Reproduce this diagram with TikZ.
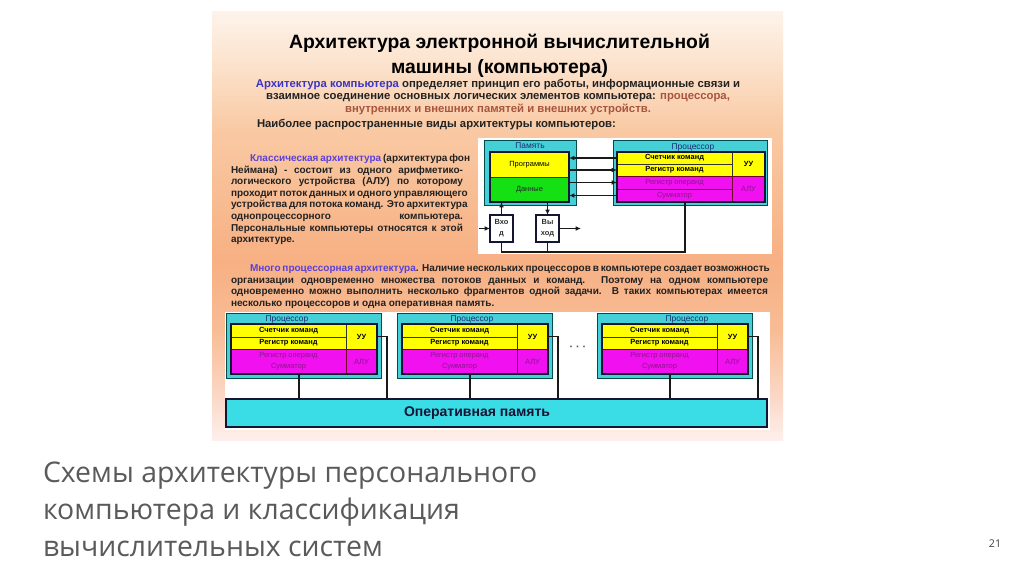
\documentclass[tikz,border=0pt]{standalone}
\usepackage{fontspec}
\setmainfont{Liberation Sans}
\newfontfamily\capfont{Open Sans}
\usetikzlibrary{arrows.meta}
\newdimen\pxu \pxu=0.75pt
\definecolor{cyanbox}{HTML}{45D0D8}
\definecolor{ramc}{HTML}{3ADCE6}
\definecolor{yel}{HTML}{FFFF00}
\definecolor{grn}{HTML}{14E014}
\definecolor{mag}{HTML}{F010F0}
\definecolor{mtext}{HTML}{8A168A}
\definecolor{navyd}{HTML}{141433}
\definecolor{lblc}{HTML}{1E2A6E}
\definecolor{blu}{HTML}{3B35C4}
\definecolor{vio}{HTML}{5A40D8}
\definecolor{brn}{HTML}{A8553E}
\definecolor{txt}{HTML}{222222}
\definecolor{capc}{HTML}{5A5A5A}
\definecolor{ca}{HTML}{FDF3EA}
\definecolor{cb}{HTML}{FCE4CF}
\definecolor{cc}{HTML}{F9C9A3}
\definecolor{cd}{HTML}{F7B083}
\definecolor{ce}{HTML}{F8BC95}
\definecolor{cf}{HTML}{FBD9C8}
\definecolor{cg}{HTML}{FDEFEC}
\pgfdeclareverticalshading{slidebg}{100bp}{color(0bp)=(cg); color(25bp)=(cg); color(29.7bp)=(cf); color(37.9bp)=(ce); color(46bp)=(cd); color(61.2bp)=(cc); color(69.4bp)=(cb); color(75bp)=(ca); color(100bp)=(ca)}
\newcommand\smf{\fontsize{5.6pt}{8pt}\selectfont}
\newcommand\bodyf{\fontsize{7.5pt}{9pt}\selectfont\bfseries}
\newcommand\paraf{\fontsize{8.5pt}{10pt}\selectfont\bfseries}
% #1 style, #2 name, #3 x1, #4 y1, #5 x2, #6 y2, #7 text
\newcommand\rbox[7][]{%
  \node[#1, anchor=north west, minimum width={((#5)-(#3))*0.75pt}, minimum height={((#6)-(#4))*0.75pt}] (#2) at ({#3},{#4}) {#7};}
\newcommand\procunit[3]{%
  \rbox[cbox]{po#1}{#2}{313}{#2+155}{378}{}
  \node[lbl] (pl#1) at (#3,319) {Процессор};
  \rbox[ybox]{pa#1}{#2+5}{324}{#2+120}{337}{\bfseries Счетчик команд}
  \rbox[ybox]{pb#1}{#2+5}{337}{#2+120}{349}{\bfseries Регистр команд}
  \rbox[mbox]{pc#1}{#2+5}{349}{#2+120}{374}{Регистр операнд\\Сумматор}
  \rbox[ybox]{pu#1}{#2+120}{324}{#2+151}{349}{\bfseries УУ}
  \rbox[mbox]{pv#1}{#2+120}{349}{#2+151}{374}{АЛУ}
  \draw[frame] (pa#1.north west) rectangle (pv#1.south east);
  \coordinate (pbot#1) at ({#2+73},374);
  \coordinate (prc#1) at ({#2+161},336.5);
  \draw[conn] (pbot#1) -- (pbot#1 |- ram.north);
  \draw[conn] (pu#1.east) -- (prc#1) -- (prc#1 |- ram.north);
}
\tikzset{
  every node/.style={inner sep=0pt, outer sep=0pt},
  cbox/.style={fill=cyanbox, draw=teal!60!black, line width=0.4pt},
  ybox/.style={fill=yel, draw=black!80, line width=0.5pt, font=\smf, text=black, align=center},
  gbox/.style={fill=grn, draw=black!80, line width=0.5pt, font=\smf, text=black!85, align=center},
  mbox/.style={fill=mag, draw=purple!60!black, line width=0.5pt, font=\smf, text=mtext, align=center},
  iobox/.style={fill=white, draw=navyd, line width=1.2pt, font=\smf\bfseries, text=black!80, align=center},
  frame/.style={draw=navyd, line width=1.5pt},
  lbl/.style={font=\fontsize{6.3pt}{7pt}\selectfont, text=lblc},
  conn/.style={draw=black!90, line width=1.1pt},
  arr/.style={conn, -{Latex[length=4pt,width=3.5pt]}},
  ramb/.style={fill=ramc, draw=navyd, line width=1.3pt},
}
\begin{document}
\begin{tikzpicture}[x=0.75pt,y=-0.75pt]
\useasboundingbox (0,0) rectangle (1024,574);
\fill[white] (0,0) rectangle (1024,574);
% slide background
\shade[shading=slidebg] (212,12) rectangle (783,440);
\fill[white] (478,138) rectangle (772,254);
\fill[white] (225,312) rectangle (770,430);

% title
\node[anchor=base, font=\fontsize{14.5pt}{17pt}\selectfont\bfseries, text=black] (t1) at (499.5,48.5) {Архитектура электронной вычислительной};
\node[anchor=base, font=\fontsize{14.5pt}{17pt}\selectfont\bfseries, text=black] (t2) at (499.5,73.5) {машины (компьютера)};
% intro paragraph
\node[anchor=base, font=\paraf, text=txt] (p1) at (498,87.5) {{\color{blu}Архитектура компьютера} определяет принцип его работы, информационные связи и};
\node[anchor=base, font=\paraf, text=txt] (p2) at (498,100) {взаимное соединение основных логических элементов компьютера: {\color{brn}процессора,}};
\node[anchor=base, font=\paraf, text=brn] (p3) at (498,113) {внутренних и внешних памятей и внешних устройств.};
\node[anchor=base west, font=\paraf, text=txt] (p4) at (257,127.5) {Наиболее распространенные виды архитектуры компьютеров:};

% classical text
\node[anchor=base west, font=\bodyf, text=txt] (k1) at (250,161.5) {\makebox[213\pxu][s]{{\color{vio}Классическая архитектура} (архитектура фон}};
\node[anchor=base west, font=\bodyf, text=txt] (k2) at (231,173.1) {\makebox[232\pxu][s]{Неймана) - состоит из одного арифметико-}};
\node[anchor=base west, font=\bodyf, text=txt] (k3) at (231,184.7) {\makebox[232\pxu][s]{логического устройства (АЛУ) по которому}};
\node[anchor=base west, font=\bodyf, text=txt] (k4) at (231,196.3) {\makebox[232\pxu][s]{проходит поток данных и одного управляющего}};
\node[anchor=base west, font=\bodyf, text=txt] (k5) at (231,207.9) {\makebox[232\pxu][s]{устройства для потока команд. Это архитектура}};
\node[anchor=base west, font=\bodyf, text=txt] (k6) at (231,219.5) {\makebox[232\pxu][s]{однопроцессорного компьютера.}};
\node[anchor=base west, font=\bodyf, text=txt] (k7) at (231,231.1) {\makebox[232\pxu][s]{Персональные компьютеры относятся к этой}};
\node[anchor=base west, font=\bodyf, text=txt] (k8) at (231,242.7) {архитектуре.};

% multiprocessor text
\node[anchor=base west, font=\bodyf, text=txt] (m1) at (250,271.5) {\makebox[518\pxu][s]{{\color{vio}Много процессорная архитектура}. Наличие нескольких процессоров в компьютере создает возможность}};
\node[anchor=base west, font=\bodyf, text=txt] (m2) at (231,283) {\makebox[537\pxu][s]{организации одновременно множества потоков данных и команд. Поэтому на одном компьютере}};
\node[anchor=base west, font=\bodyf, text=txt] (m3) at (231,294.5) {\makebox[537\pxu][s]{одновременно можно выполнить несколько фрагментов одной задачи. В таких компьютерах имеется}};
\node[anchor=base west, font=\bodyf, text=txt] (m4) at (231,306) {несколько процессоров и одна оперативная память.};

% ---- classical architecture diagram
\rbox[cbox]{memo}{484}{140}{576}{205}{}
\node[lbl] (memlbl) at (530,146) {Память};
\rbox[ybox]{prog}{490}{152}{569}{177}{Программы}
\rbox[gbox]{data}{490}{177}{569}{202}{Данные}
\draw[frame] (prog.north west) rectangle (data.south east);

\rbox[cbox]{proco}{613}{140}{767}{205}{}
\node[lbl] (proclbl) at (693,147) {Процессор};
\rbox[ybox]{r1}{617}{152}{732}{164}{\bfseries Счетчик команд}
\rbox[ybox]{r2}{617}{164}{732}{176}{\bfseries Регистр команд}
\rbox[mbox]{r3}{617}{176}{732}{189}{Регистр операнд}
\rbox[mbox]{r4}{617}{189}{732}{202}{Сумматор}
\rbox[ybox]{uu}{732}{152}{765}{176}{\bfseries УУ}
\rbox[mbox]{alu}{732}{176}{765}{202}{АЛУ}
\draw[frame] (r1.north west) rectangle (alu.south east);

\draw[arr] (r1.west) -- (r1.west -| prog.east);
\draw[arr] (r2.west -| prog.east) -- (r2.west);
\draw[arr] (r3.west -| data.east) -- (r3.west);
\draw[arr] (r4.west) -- (r4.west -| data.east);

\rbox[iobox]{vhod}{490}{215}{513}{242}{Вхо\\д}
\rbox[iobox]{vyhod}{536}{215}{559}{242}{Вы\\ход}
\draw[arr] (vhod.north) -- (vhod.north |- data.south);
\draw[arr] (vyhod.north |- data.south) -- (vyhod.north);
\coordinate (inL) at (479,228.5);
\coordinate (outR) at (581,228.5);
\draw[arr] (inL) -- (vhod.west);
\draw[arr] (vyhod.east) -- (outR);
\coordinate (bus) at (685,252);
\draw[conn] (vhod.south) |- (bus) -- (bus |- r4.south);
\draw[conn] (vyhod.south) -- (vyhod.south |- bus);

% ---- multiprocessor diagram
\rbox[ramb]{ram}{226}{399}{767}{427}{}
\node[anchor=west, font=\fontsize{10.5pt}{12pt}\selectfont\bfseries, text=navyd] (ramtxt) at (404,413.5) {Оперативная память};
\procunit{1}{226}{287}
\procunit{2}{397}{472}
\procunit{3}{597}{687}
\node[font=\fontsize{8pt}{9pt}\selectfont\bfseries, text=black!70] (dots) at (578,348) {· · ·};

% caption
\node[anchor=base west, font=\capfont\fontsize{21.3pt}{25pt}\selectfont, text=capc] (c1) at (43,482) {Схемы архитектуры персонального};
\node[anchor=base west, font=\capfont\fontsize{21.3pt}{25pt}\selectfont, text=capc] (c2) at (43,519) {компьютера и классификация};
\node[anchor=base west, font=\capfont\fontsize{21.3pt}{25pt}\selectfont, text=capc] (c3) at (43,556) {вычислительных систем};
\node[font=\capfont\fontsize{8pt}{9pt}\selectfont, text=black!75] (pg) at (995,544) {21};
\end{tikzpicture}
\end{document}
